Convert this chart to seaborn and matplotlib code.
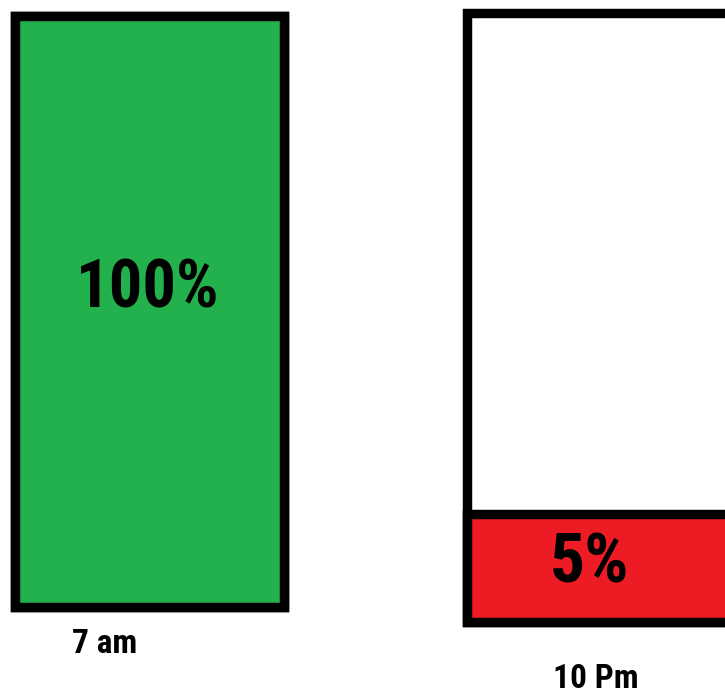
import matplotlib
matplotlib.use("Agg")
import matplotlib.pyplot as plt
from matplotlib import font_manager
import seaborn as sns

# données
times = ["7 am", "10 Pm"]
charge_labels = ["100%", "5%"]
fill_levels = [100, 17.6]   # hauteur de remplissage telle que dessinée
capacity = [100, 100]
fill_colors = ["#22B14C", "#ED1C24"]

sns.set_style("white")

# police étroite si disponible
installed = {f.name for f in font_manager.fontManager.ttflist}
narrow = [f.name for f in font_manager.fontManager.ttflist
          if ("Condensed" in f.name or "Narrow" in f.name or f.stretch in ("condensed", "semi-condensed", "extra-condensed"))]
prefs = ["Liberation Sans Narrow", "Roboto Condensed", "Open Sans Condensed", "DejaVu Sans Condensed"]
fam = next((p for p in prefs if p in installed), narrow[0] if narrow else "DejaVu Sans")
plt.rcParams['font.family'] = [fam, 'DejaVu Sans']
stretch = "condensed"

W, H = 725, 694
fig = plt.figure(figsize=(W / 100, H / 100), dpi=100)

# position des batteries en pixels (gauche, bas, largeur, hauteur)
boxes = [(14.5, 606.5, 269, 591), (466.5, 621.5, 269, 609)]
time_pos = [(0.336, -0.064), (0.481, -0.094)]
pct_pos = [(0.496, 0.537), (0.459, 0.094)]
pct_size = [48, 50]

lw = 6.8
for i, t in enumerate(times):
    x0, yb, w, h = boxes[i]
    ax = fig.add_axes([x0 / W, (H - yb) / H, w / W, h / H])
    sns.barplot(x=[t], y=[capacity[i]], ax=ax, color="white", saturation=1,
                edgecolor="black", linewidth=lw, width=1)
    sns.barplot(x=[t], y=[fill_levels[i]], ax=ax, color=fill_colors[i], saturation=1,
                edgecolor="black", linewidth=lw, width=1)
    for p in ax.patches:
        p.set_clip_on(False)
    ax.set_xlim(-0.5, 0.5)
    ax.set_ylim(0, 100)
    ax.axis("off")
    ax.text(pct_pos[i][0], pct_pos[i][1], charge_labels[i], transform=ax.transAxes,
            ha="center", va="center", fontsize=pct_size[i], fontweight="bold",
            fontstretch=stretch, color="black")
    ax.text(time_pos[i][0], time_pos[i][1], t, transform=ax.transAxes,
            ha="center", va="center", fontsize=24, fontweight="bold",
            fontstretch=stretch, color="black")

plt.savefig("out.png", dpi=100)
